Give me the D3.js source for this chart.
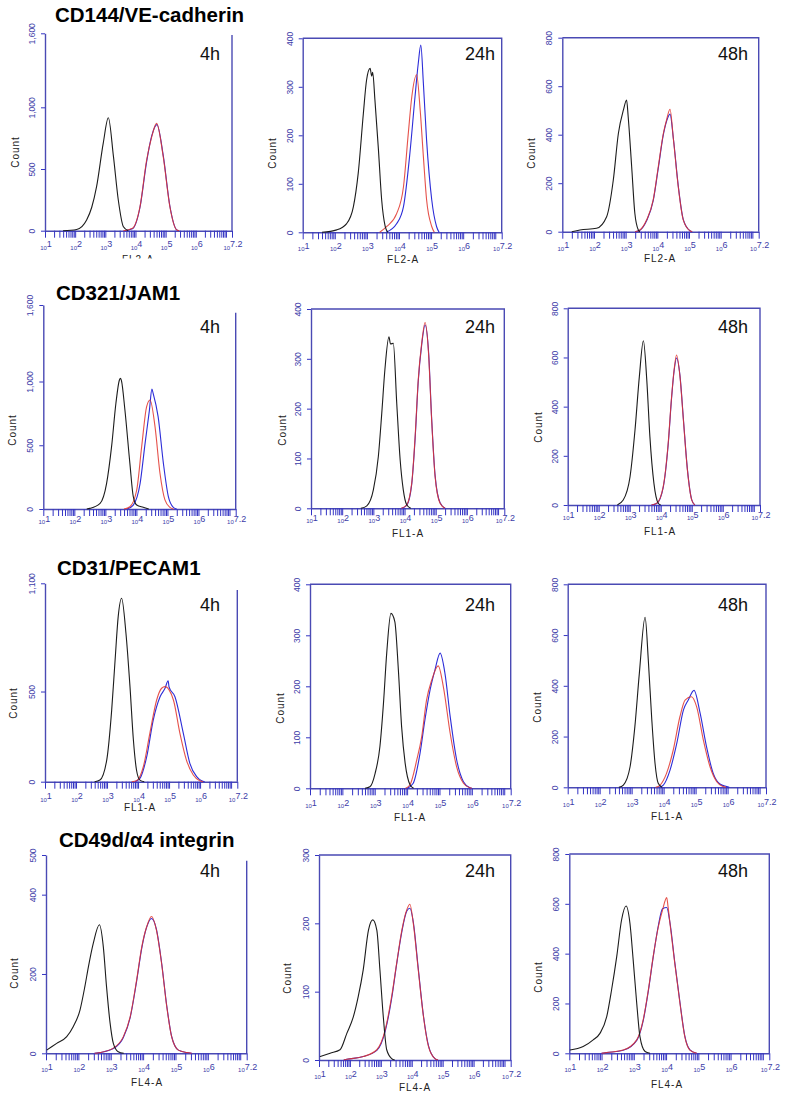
<!DOCTYPE html>
<html><head><meta charset="utf-8">
<script src="https://cdn.jsdelivr.net/npm/d3@7"></script>
<style>body{margin:0;background:#fff}</style>
</head><body><svg id="c" width="787" height="1104"></svg>
<script>
// ---------- DATA (x = log10 fluorescence, y = count) ----------
const markers = ["CD144/VE-cadherin", "CD321/JAM1", "CD31/PECAM1", "CD49d/\u03b14 integrin"];
const times = ["4h", "24h", "48h"];
const channels = ["FL2-A", "FL1-A", "FL1-A", "FL4-A"];
const xTickExps = [1, 2, 3, 4, 5, 6, 7.2];
const yTicks1600 = [0, 500, 1000, 1600];
const yTicks1100 = [0, 500, 1100];
const yTicks800 = [0, 200, 400, 600, 800];
const yTicks500 = [0, 200, 400, 500];
const yTicks400 = [0, 100, 200, 300, 400];
const yTicks300 = [0, 100, 200, 300];

// CD144 4h
const cd144_4h_black = [[1.6,0],[2.05,10],[2.38,87],[2.55,190],[2.71,357],[2.93,708],[3.10,915],[3.27,600],[3.43,249],[3.60,32],[3.76,0]];
const cd144_4h_red = [[3.6,0],[3.9,20],[4.15,195],[4.37,573],[4.54,762],[4.70,870],[4.92,600],[5.14,195],[5.37,5],[5.45,0]];
const cd144_4h_blue = [[3.65,0],[3.9,15],[4.15,190],[4.37,560],[4.54,770],[4.71,860],[4.92,610],[5.14,200],[5.37,6],[5.45,0]];
// CD144 24h
const cd144_24h_black = [[1.6,0],[2.06,5],[2.37,18],[2.58,53],[2.73,122],[2.89,245],[2.99,314],[3.10,338],[3.15,322],[3.18,330],[3.25,273],[3.36,170],[3.46,67],[3.57,12],[3.65,0]];
const cd144_24h_red = [[3.4,0],[3.62,12],[3.93,39],[4.14,94],[4.29,204],[4.40,280],[4.55,325],[4.66,252],[4.76,156],[4.86,67],[5.02,12],[5.1,0]];
const cd144_24h_blue = [[3.6,0],[3.93,18],[4.14,53],[4.34,163],[4.50,280],[4.60,348],[4.68,386],[4.76,307],[4.86,190],[5.02,67],[5.17,12],[5.25,0]];
// CD144 48h
const cd144_48h_black = [[1.3,0],[1.56,7],[2.08,14],[2.40,62],[2.61,213],[2.77,405],[2.93,502],[3.03,543],[3.08,474],[3.19,268],[3.29,76],[3.40,7],[3.45,0]];
const cd144_48h_red = [[3.3,0],[3.45,7],[3.66,48],[3.87,131],[4.03,268],[4.19,405],[4.29,460],[4.40,505],[4.51,378],[4.66,186],[4.82,48],[5.03,4],[5.1,0]];
const cd144_48h_blue = [[3.3,0],[3.45,6],[3.66,45],[3.87,128],[4.03,262],[4.19,400],[4.29,455],[4.40,485],[4.51,380],[4.66,190],[4.82,50],[5.03,4],[5.1,0]];
// CD321 4h
const cd321_4h_black = [[2.4,0],[2.50,5],[2.83,44],[3.04,201],[3.20,489],[3.34,829],[3.45,1010],[3.49,1025],[3.52,1005],[3.63,776],[3.79,358],[3.90,97],[4.01,31],[4.22,13],[4.4,0]];
const cd321_4h_red = [[3.6,0],[3.79,18],[4.01,149],[4.17,489],[4.33,803],[4.44,855],[4.60,646],[4.76,280],[4.92,71],[5.08,13],[5.2,0]];
const cd321_4h_blue = [[3.7,0],[3.90,31],[4.12,201],[4.28,515],[4.42,776],[4.50,940],[4.54,907],[4.70,724],[4.87,358],[5.03,97],[5.19,13],[5.3,0]];
// CD321 24h
const cd321_24h_black = [[2.6,0],[2.79,5],[3.00,37],[3.16,104],[3.27,191],[3.37,278],[3.50,344],[3.55,330],[3.64,331],[3.75,211],[3.86,97],[3.96,37],[4.07,7],[4.2,0]];
const cd321_24h_red = [[3.9,0],[4.07,7],[4.23,50],[4.34,144],[4.44,258],[4.55,331],[4.66,373],[4.77,311],[4.87,177],[4.98,64],[5.14,10],[5.3,0]];
const cd321_24h_blue = [[3.9,0],[4.07,6],[4.23,48],[4.34,140],[4.44,255],[4.55,328],[4.66,368],[4.77,315],[4.87,180],[4.98,66],[5.14,11],[5.3,0]];
// CD321 48h
const cd321_48h_black = [[2.6,0],[2.79,20],[3.01,115],[3.17,305],[3.31,522],[3.44,668],[3.55,508],[3.65,278],[3.78,88],[3.92,7],[4.0,0]];
const cd321_48h_red = [[3.7,0],[3.87,7],[4.08,75],[4.24,251],[4.35,441],[4.43,549],[4.51,610],[4.62,522],[4.73,346],[4.86,142],[5.00,20],[5.1,0]];
const cd321_48h_blue = [[3.7,0],[3.87,6],[4.08,72],[4.24,246],[4.35,436],[4.43,545],[4.51,598],[4.62,526],[4.73,350],[4.86,145],[5.00,21],[5.1,0]];
// CD31 4h
const cd31_4h_black = [[2.6,0],[2.77,9],[2.99,120],[3.15,397],[3.26,675],[3.36,915],[3.47,1017],[3.61,823],[3.74,527],[3.85,231],[3.95,65],[4.06,9],[4.2,0]];
const cd31_4h_red = [[3.8,0],[3.95,5],[4.17,83],[4.38,268],[4.60,453],[4.76,518],[4.87,527],[5.14,453],[5.35,268],[5.56,120],[5.78,37],[5.99,5],[6.1,0]];
const cd31_4h_blue = [[3.9,0],[4.06,18],[4.28,139],[4.49,342],[4.71,471],[4.87,518],[4.97,560],[5.00,525],[5.19,471],[5.46,268],[5.67,102],[5.89,28],[6.05,5],[6.15,0]];
// CD31 24h
const cd31_24h_black = [[2.7,0],[2.85,3],[3.01,29],[3.16,82],[3.27,167],[3.37,265],[3.50,343],[3.62,327],[3.73,232],[3.83,121],[3.94,49],[4.09,7],[4.2,0]];
const cd31_24h_red = [[3.95,0],[4.09,7],[4.30,56],[4.45,101],[4.60,173],[4.76,212],[4.96,240],[5.12,199],[5.33,108],[5.53,42],[5.74,10],[5.94,1],[6.0,0]];
const cd31_24h_blue = [[4.0,0],[4.19,10],[4.40,69],[4.55,134],[4.71,193],[4.86,232],[5.02,265],[5.17,225],[5.33,141],[5.53,56],[5.74,13],[5.94,1],[6.0,0]];
// CD31 48h
const cd31_48h_black = [[2.6,0],[2.74,9],[2.95,81],[3.10,239],[3.24,449],[3.42,670],[3.52,502],[3.63,265],[3.73,95],[3.83,16],[3.95,0]];
const cd31_48h_red = [[3.75,0],[3.89,9],[4.09,55],[4.30,147],[4.51,279],[4.67,344],[4.87,357],[5.03,318],[5.24,187],[5.45,81],[5.66,22],[5.86,3],[5.95,0]];
const cd31_48h_blue = [[3.85,0],[3.99,9],[4.20,68],[4.41,173],[4.62,305],[4.77,344],[4.95,382],[5.14,292],[5.34,160],[5.55,55],[5.76,13],[5.97,3],[6.05,0]];
// CD49d 4h
const cd49d_4h_black = [[1.02,8],[1.33,25],[1.64,42],[1.84,67],[2.05,109],[2.20,168],[2.31,218],[2.46,277],[2.65,324],[2.77,269],[2.87,168],[2.98,76],[3.08,25],[3.23,4],[3.4,0]];
const cd49d_4h_red = [[2.5,0],[2.67,2],[3.08,13],[3.39,42],[3.60,92],[3.80,185],[3.96,269],[4.11,319],[4.26,345],[4.41,311],[4.57,227],[4.73,118],[4.88,42],[5.09,8],[5.35,2],[5.5,0]];
const cd49d_4h_blue = [[2.5,0],[2.67,2],[3.08,12],[3.39,40],[3.60,90],[3.80,182],[3.96,266],[4.11,318],[4.26,340],[4.41,313],[4.57,229],[4.73,120],[4.88,43],[5.09,8],[5.35,2],[5.5,0]];
// CD49d 24h
const cd49d_24h_black = [[1.03,5],[1.36,10],[1.68,15],[1.90,39],[2.11,63],[2.27,93],[2.43,132],[2.60,190],[2.74,205],[2.87,190],[2.97,132],[3.08,63],[3.19,15],[3.35,2],[3.45,0]];
const cd49d_24h_red = [[1.8,0],[1.90,1],[2.43,5],[2.87,15],[3.14,44],[3.35,93],[3.51,141],[3.68,190],[3.84,220],[3.94,228],[4.05,200],[4.21,132],[4.38,63],[4.54,20],[4.75,2],[4.85,0]];
const cd49d_24h_blue = [[1.8,0],[1.90,1],[2.43,5],[2.87,14],[3.14,42],[3.35,90],[3.51,140],[3.68,188],[3.84,218],[3.94,222],[4.05,202],[4.21,134],[4.38,64],[4.54,21],[4.75,2],[4.85,0]];
// CD49d 48h
const cd49d_48h_black = [[1.02,13],[1.43,27],[1.74,54],[1.95,80],[2.16,147],[2.31,254],[2.47,388],[2.62,535],[2.76,591],[2.88,522],[2.98,375],[3.09,201],[3.19,67],[3.35,7],[3.5,0]];
const cd49d_48h_red = [[2.0,0],[2.16,3],[2.67,13],[3.09,54],[3.29,134],[3.45,254],[3.60,388],[3.76,508],[3.89,575],[4.02,625],[4.06,590],[4.12,522],[4.27,361],[4.43,201],[4.58,67],[4.74,13],[4.95,0]];
const cd49d_48h_blue = [[2.0,0],[2.16,3],[2.67,12],[3.09,52],[3.29,130],[3.45,250],[3.60,385],[3.76,512],[3.89,580],[4.02,585],[4.12,525],[4.27,365],[4.43,205],[4.58,70],[4.74,14],[4.95,0]];

// ---------- LAYOUT ----------
const panels = [
 {r:0,c:0,x0:45,x1:232,yT:33.3,yB:230.7,box:false,rTop:35,ymax:1600,ticks:yTicks1600,s:[cd144_4h_black,cd144_4h_red,cd144_4h_blue],cx:15,cy:152,xl:[138,263],clip:258.5},
 {r:0,c:1,x0:302.7,x1:501.7,yT:38.3,yB:232.3,box:true,ymax:400,ticks:yTicks400,s:[cd144_24h_black,cd144_24h_red,cd144_24h_blue],cx:272,cy:153,xl:[403,263]},
 {r:0,c:2,x0:562.3,x1:758.7,yT:37.7,yB:231.7,box:true,ymax:800,ticks:yTicks800,s:[cd144_48h_black,cd144_48h_red,cd144_48h_blue],cx:531,cy:153,xl:[660,262]},
 {r:1,c:0,x0:43.3,x1:235.7,yT:305,yB:509,box:false,rTop:312.7,ymax:1600,ticks:yTicks1600,s:[cd321_4h_black,cd321_4h_red,cd321_4h_blue],cx:12,cy:430,xl:null},
 {r:1,c:1,x0:311,x1:504.3,yT:309,yB:508.3,box:true,ymax:400,ticks:yTicks400,s:[cd321_24h_black,cd321_24h_red,cd321_24h_blue],cx:282,cy:430,xl:[408,537]},
 {r:1,c:2,x0:567.7,x1:760,yT:308.3,yB:505,box:true,ymax:800,ticks:yTicks800,s:[cd321_48h_black,cd321_48h_red,cd321_48h_blue],cx:538,cy:427,xl:[660,535]},
 {r:2,c:0,x0:45,x1:237.3,yT:583.3,yB:781.7,box:false,rTop:590,ymax:1100,ticks:yTicks1100,s:[cd31_4h_black,cd31_4h_red,cd31_4h_blue],cx:13,cy:703,xl:[140,811]},
 {r:2,c:1,x0:310,x1:510.7,yT:584.3,yB:788.3,box:true,ymax:400,ticks:yTicks400,s:[cd31_24h_black,cd31_24h_red,cd31_24h_blue],cx:280,cy:708,xl:[410,821]},
 {r:2,c:2,x0:567.7,x1:766,yT:584.3,yB:787.3,box:true,ymax:800,ticks:yTicks800,s:[cd31_48h_black,cd31_48h_red,cd31_48h_blue],cx:537,cy:707,xl:[667,820]},
 {r:3,c:0,x0:46,x1:246.7,yT:855,yB:1053.3,box:false,rTop:860.7,ymax:500,ticks:yTicks500,s:[cd49d_4h_black,cd49d_4h_red,cd49d_4h_blue],cx:14,cy:973,xl:[147,1086]},
 {r:3,c:1,x0:319,x1:510.7,yT:855,yB:1060,box:true,ymax:300,ticks:yTicks300,s:[cd49d_24h_black,cd49d_24h_red,cd49d_24h_blue],cx:287,cy:978,xl:[415,1091]},
 {r:3,c:2,x0:569.3,x1:769.3,yT:854,yB:1053.3,box:true,ymax:800,ticks:yTicks800,s:[cd49d_48h_black,cd49d_48h_red,cd49d_48h_blue],cx:538,cy:977,xl:[667,1088]}
];
const titlePos = [[55,22],[56,300],[57,575],[59,847]];
const timeY = [60,333,611,877];
const timeX = [200,465,718];
const tickLabOff = [19,15,20,19];

const FRAME = "#4a4ab4", TICK = "#3434c4", TLAB = "#3c3ca8";
const lineColors = ["#1c1c1c", "#e0342c", "#2c2cd8"];

const svg = d3.select("#c");
const defs = svg.append("defs");

panels.forEach((p, i) => {
  const g = svg.append("g");
  const x = d3.scaleLog().domain([10, Math.pow(10, 7.2)]).range([p.x0, p.x1]);
  const y = d3.scaleLinear().domain([0, p.ymax]).range([p.yB, p.yT]);

  // x ticks (major + minor log ticks)
  const tv = [];
  for (let d = 1; d <= 7; d++) for (let k = 1; k <= 9; k++) {
    const v = k * Math.pow(10, d);
    if (v <= Math.pow(10, 7.2)) tv.push(v);
  }
  tv.push(Math.pow(10, 7.2));
  const xa = g.append("g").attr("transform", `translate(0,${p.yB})`)
    .call(d3.axisBottom(x).tickValues(tv).tickSize(7).tickSizeOuter(0).tickFormat(""));
  xa.selectAll("line").attr("stroke", TICK).attr("stroke-width", 1);
  xa.select(".domain").attr("stroke", FRAME).attr("stroke-width", 1.4);

  // x tick labels: 10^n
  xTickExps.forEach(e => {
    const t = g.append("text").attr("x", x(Math.pow(10, e)) + 1).attr("y", p.yB + tickLabOff[p.r])
      .attr("text-anchor", "middle").attr("fill", TLAB)
      .style("font-family", "Liberation Sans, Arial, sans-serif");
    t.append("tspan").attr("font-size", 6).text("10");
    t.append("tspan").attr("font-size", 9).attr("dy", -2.5).text(e);
  });

  // y axis
  const ya = g.append("g").attr("transform", `translate(${p.x0},0)`)
    .call(d3.axisLeft(y).tickValues(p.ticks).tickSize(4).tickSizeOuter(0).tickFormat(d3.format(",")));
  ya.select(".domain").attr("stroke", FRAME).attr("stroke-width", 1.4);
  ya.selectAll("line").attr("stroke", TICK);
  ya.selectAll("text").attr("x", null).attr("dy", null)
    .attr("transform", "translate(-10,0) rotate(-90)")
    .attr("text-anchor", "middle").attr("fill", TLAB)
    .style("font-size", "8.5px").style("font-family", "Liberation Sans, Arial, sans-serif");

  // frame
  if (p.box) {
    g.append("path").attr("d", `M${p.x0},${p.yT}H${p.x1}V${p.yB}`)
      .attr("fill", "none").attr("stroke", FRAME).attr("stroke-width", 1.4);
  } else {
    g.append("path").attr("d", `M${p.x1},${p.rTop}V${p.yB}`)
      .attr("fill", "none").attr("stroke", FRAME).attr("stroke-width", 1.4);
  }

  // histograms
  const line = d3.line().x(d => x(Math.pow(10, d[0]))).y(d => y(d[1])).curve(d3.curveMonotoneX);
  [2, 1, 0].forEach(k => {
    g.append("path").datum(p.s[k]).attr("d", line).attr("fill", "none")
      .attr("stroke", lineColors[k]).attr("stroke-width", 1.1)
      .attr("stroke-opacity", k === 1 ? 0.85 : 1);
  });

  // Count label
  g.append("text").attr("transform", `translate(${p.cx + 4},${p.cy}) rotate(-90)`)
    .attr("text-anchor", "middle").attr("fill", "#222")
    .style("font-size", "10px").style("letter-spacing", "1px")
    .style("font-family", "Liberation Sans, Arial, sans-serif").text("Count");

  // x title
  if (p.xl) {
    const xt = g.append("text").attr("x", p.xl[0]).attr("y", p.xl[1])
      .attr("text-anchor", "middle").attr("fill", "#222")
      .style("font-size", "10px").style("letter-spacing", "1px")
      .style("font-family", "Liberation Sans, Arial, sans-serif").text(channels[p.r]);
    if (p.clip) {
      defs.append("clipPath").attr("id", "clip" + i).append("rect")
        .attr("x", 0).attr("y", 0).attr("width", 787).attr("height", p.clip);
      xt.attr("clip-path", `url(#clip${i})`);
    }
  }

  // time label
  g.append("text").attr("x", timeX[p.c]).attr("y", timeY[p.r]).attr("fill", "#111")
    .style("font-size", "18px").style("font-family", "Liberation Sans, Arial, sans-serif")
    .text(times[p.c]);
});

// row titles
markers.forEach((m, r) => {
  svg.append("text").attr("x", titlePos[r][0]).attr("y", titlePos[r][1]).attr("fill", "#000")
    .style("font-size", "20.5px").style("font-weight", "bold")
    .style("font-family", "Liberation Sans, Arial, sans-serif").text(m);
});
</script></body></html>
